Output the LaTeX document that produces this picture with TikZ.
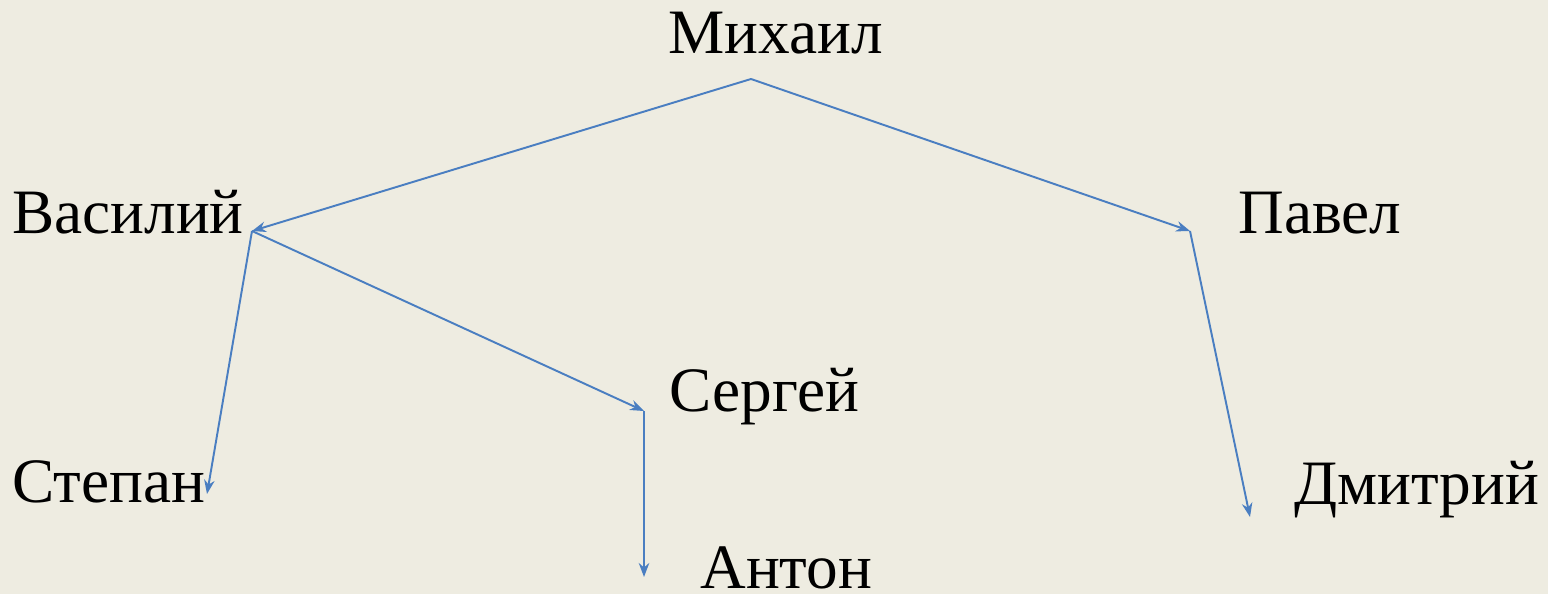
\documentclass[tikz,border=0pt]{standalone}
\usepackage{fontspec}
\setmainfont{Liberation Serif}
\usetikzlibrary{arrows.meta}
\definecolor{paper}{HTML}{EEECE1}
\definecolor{linkblue}{HTML}{4A7EC1}

\begin{document}
\begin{tikzpicture}[x=0.02cm,y=-0.02cm,
  person/.style={anchor=base west,inner sep=0pt,font=\fontsize{36}{40}\selectfont},
  link/.style={draw=linkblue,line width=1.1pt,-{Stealth[length=8pt,width=6pt]}}]

\fill [paper] (0,0) rectangle (1548,594) ;
\useasboundingbox (0,0) rectangle (1548,594) ;

% names
\node [person] (mikhail) at (668,54) {Михаил} ;
\node [person] (vasily) at (12,234) {Василий} ;
\node [person] (pavel) at (1238,234) {Павел} ;
\node [person] (sergey) at (669,412) {Сергей} ;
\node [person] (stepan) at (12,502) {Степан} ;
\node [person] (dmitry) at (1294,504) {Дмитрий} ;
\node [person,text depth=0pt] (anton) at (700,588) {Антон} ;

% joints of the tree
\coordinate (m) at (751,79) ;
\coordinate (v) at (252,231) ;
\coordinate (p) at (1190,231) ;
\coordinate (g) at (644,411) ;
\coordinate (s) at (207,494) ;
\coordinate (d) at (1250,517) ;
\coordinate (a) at (644,577) ;

\draw [link] (m) -- (v) ;
\draw [link] (m) -- (p) ;
\draw [link] (v) -- (s) ;
\draw [link] (v) -- (g) ;
\draw [link] (g) -- (a) ;
\draw [link] (p) -- (d) ;

\end{tikzpicture}
\end{document}
